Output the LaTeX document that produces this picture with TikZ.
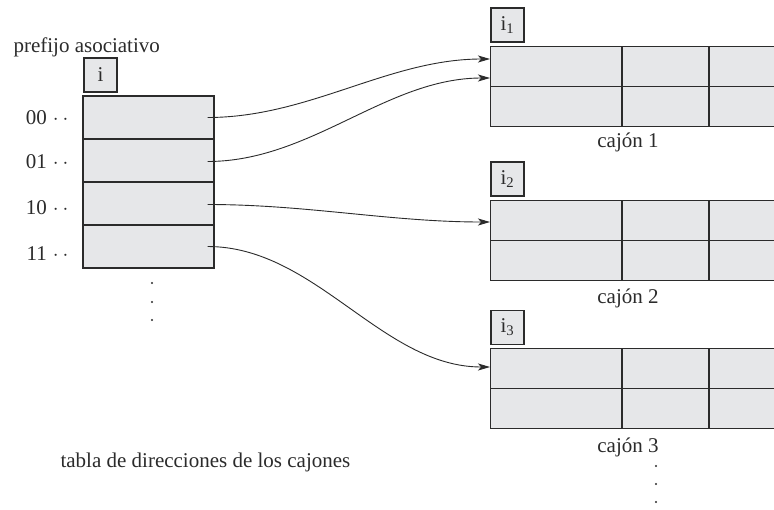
\documentclass[tikz,border=0pt]{standalone}
\usepackage{fontspec}
\setmainfont{Liberation Serif}
\usetikzlibrary{arrows.meta,calc}
\definecolor{cellfill}{HTML}{E6E7E9}
\definecolor{linec}{HTML}{2B2B2B}
\newcommand{\twodots}{\hspace{6pt}$\cdot$\hspace{4pt}$\cdot$}
\begin{document}
\begin{tikzpicture}[x=1pt,y=-1pt,
  every node/.style={font=\fontsize{21}{25}\selectfont, text=linec},
  cell/.style={draw=linec, fill=cellfill, line width=1.1pt, inner sep=0pt},
  tagbox/.style={cell, minimum width=33pt, minimum height=34pt},
  dircell/.style={cell, minimum width=131pt, minimum height=43pt},
  bucket/.style={cell, minimum width=310pt, minimum height=80pt},
  grid/.style={draw=linec, line width=1.1pt},
  ptr/.style={draw=linec, line width=0.9pt, -{Stealth[length=12pt,width=7pt,inset=3pt]}},
  vdot/.style={circle, fill=linec, inner sep=0pt, minimum size=2.2pt}]
\clip (0,0) rectangle (774,509);
\fill[white] (0,0) rectangle (774,509);

% directory
\node[anchor=base west] (pref) at (10,52) {prefijo asociativo};
\node[tagbox] (itag) at (100.5,75) {i};
\node[dircell] (d0) at (148.5,117.5) {};
\node[dircell] (d1) at (148.5,160.5) {};
\node[dircell] (d2) at (148.5,203.5) {};
\node[dircell] (d3) at (148.5,246.5) {};
\node[anchor=base east] (l0) at (72,124) {00\twodots};
\node[anchor=base east] (l1) at (72,168) {01\twodots};
\node[anchor=base east] (l2) at (72,214) {10\twodots};
\node[anchor=base east] (l3) at (72,260) {11\twodots};
\node[vdot] (dd1) at (152,283) {};
\node[vdot] (dd2) at (152,302) {};
\node[vdot] (dd3) at (152,320) {};
\node[anchor=base west] (cap) at (57,467) {tabla de direcciones de los cajones};

% buckets
\node[tagbox] (t1) at (507.5,25) {i\textsubscript{1}};
\node[bucket, anchor=north west] (b1) at (490,46) {};
\node[tagbox] (t2) at (507.5,179) {i\textsubscript{2}};
\node[bucket, anchor=north west] (b2) at (490,200) {};
\node[tagbox] (t3) at (507.5,327.5) {i\textsubscript{3}};
\node[bucket, anchor=north west] (b3) at (490,348) {};
\foreach \b in {b1,b2,b3}{
  \draw[grid] (\b.west) -- (\b.east);
  \draw[grid] ($(\b.north west)+(132pt,0)$) -- ($(\b.south west)+(132pt,0)$);
  \draw[grid] ($(\b.north west)+(219pt,0)$) -- ($(\b.south west)+(219pt,0)$);
}
\node[anchor=base] (c1) at (628,147) {cajón 1};
\node[anchor=base] (c2) at (628,303) {cajón 2};
\node[anchor=base] (c3) at (628,452) {cajón 3};
\node[vdot] (rd1) at (656,466) {};
\node[vdot] (rd2) at (656,484) {};
\node[vdot] (rd3) at (656,502) {};

% pointers
\coordinate (p0) at ($(d0.east)+(-7pt,0)$);
\coordinate (p1) at ($(d1.east)+(-7pt,-1pt)$);
\coordinate (p2) at ($(d2.east)+(-7pt,-1pt)$);
\coordinate (p3) at ($(d3.east)+(-7pt,0)$);
\coordinate (e0) at ($(b1.north west)+(0,-13pt)$);
\coordinate (e1) at ($(b1.north west)+(0,-32pt)$);
\coordinate (e2) at ($(b2.north west)+(0,-22pt)$);
\coordinate (e3) at ($(b3.north west)+(0,-19pt)$);
\draw[ptr] (p0) to[out=0,in=180,looseness=0.9] (e0);
\draw[ptr] (p1) to[out=0,in=180,looseness=0.9] (e1);
\draw[ptr] (p2) to[out=0,in=180,looseness=0.9] (e2);
\draw[ptr] (p3) to[out=0,in=180,looseness=0.9] (e3);
\end{tikzpicture}
\end{document}
